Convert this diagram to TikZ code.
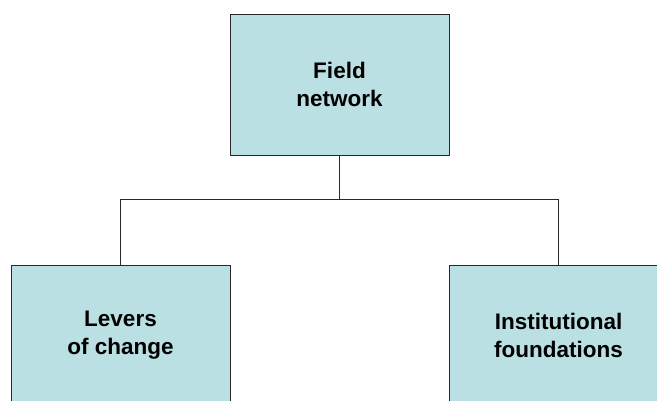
\documentclass[tikz,border=0pt]{standalone}
\usepackage{fontspec}
\setmainfont{Liberation Sans}
\usepackage{tikz}

\definecolor{boxfill}{RGB}{187,224,227}
\definecolor{edgegray}{RGB}{40,40,40}

\tikzset{
  orgbox/.style={draw=edgegray, line width=0.9pt, fill=boxfill, minimum width=219pt,
    minimum height=141pt, inner sep=0pt, align=center,
    font=\bfseries\fontsize{22.5}{28}\selectfont},
  orgline/.style={draw=edgegray, line width=0.8pt}
}

\begin{document}
\begin{tikzpicture}[x=1pt,y=1pt,yscale=-1,xscale=1]
\useasboundingbox (0,0) rectangle (657,401);

% Boxes
\node [orgbox] (field) at (339.5,84.5) {Field\\network};
\node [orgbox] (levers) at (120.5,335.5) {Levers\\of change};
\node [orgbox] (found) at (558.5,335.5) {Institutional\\foundations};

% Branch point
\coordinate (bus) at (339.5,199);

% Connectors
\draw [orgline] (field.south) -- (bus);
\draw [orgline] (bus) -| (levers.north);
\draw [orgline] (bus) -| (found.north);

\end{tikzpicture}
\end{document}
